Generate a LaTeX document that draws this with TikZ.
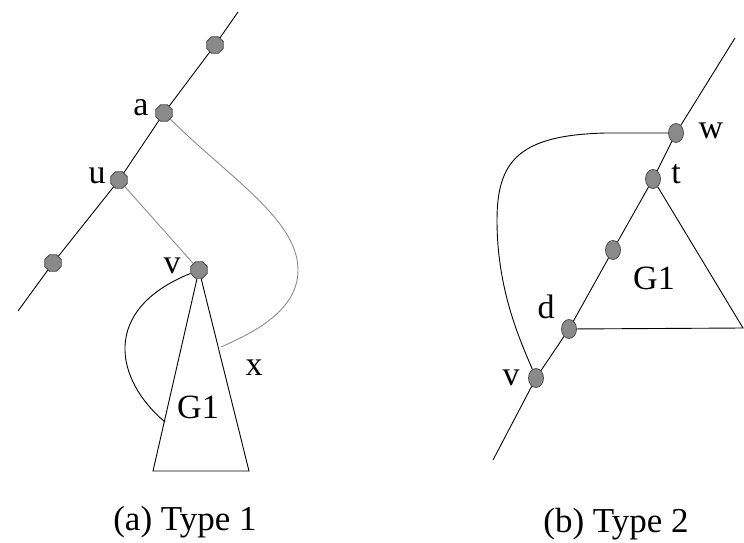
\documentclass[tikz,border=0pt]{standalone}
\usepackage{fontspec}
\setmainfont{Liberation Serif}
\usetikzlibrary{shapes.geometric}
\definecolor{dotfill}{HTML}{8A8A8A}
\definecolor{dotline}{HTML}{505050}
\definecolor{softgray}{HTML}{8C8C8C}
\begin{document}
\begin{tikzpicture}[x=1pt,y=-1pt,
  octdot/.style={regular polygon,regular polygon sides=8,minimum size=18pt,inner sep=0pt,fill=dotfill,draw=dotline,line width=0.8pt},
  ovaldot/.style={ellipse,minimum width=15pt,minimum height=19pt,inner sep=0pt,fill=dotfill,draw=dotline,line width=0.8pt},
  lbl/.style={font=\fontsize{34}{40}\selectfont,inner sep=0pt},
  captext/.style={font=\fontsize{35}{42}\selectfont,inner sep=0pt},
  ln/.style={line width=0.9pt,black},
  gln/.style={line width=0.9pt,softgray}]
\useasboundingbox (0,0) rectangle (744,543);
% ---------- (a) Type 1 ----------
\coordinate (L1) at (238,12);
\coordinate (L2) at (18,311);
\coordinate (TL) at (153,471);
\coordinate (TR) at (249,471);
\coordinate (X1) at (221,347);
\coordinate (Y1) at (165,422);
\node[octdot] (top) at (215,45) {};
\node[octdot] (a) at (164,113) {};
\node[octdot] (u) at (119,180) {};
\node[octdot] (lft) at (53,263) {};
\node[octdot] (v) at (199,270) {};
\draw[ln] (L2) -- (lft) -- (u) -- (a) -- (top) -- (L1);
\draw[gln] (u) -- (v);
\draw[gln] (a) .. controls (230,178) and (298,220) .. (298,270) .. controls (298,310) and (255,332) .. (X1);
\draw[ln] (v) .. controls (100,310) and (115,380) .. (Y1);
\draw[ln] (v) -- (TL) -- (TR) -- (v);
\node[lbl] (la) at (141,108) {a};
\node[lbl] (lu) at (97,176) {u};
\node[lbl] (lv) at (172,266) {v};
\node[lbl] (lx) at (254,368) {x};
\node[lbl] (lg) at (198,407) {G1};
\node[captext] (capa) at (185,522) {(a) Type 1};
% ---------- (b) Type 2 ----------
\coordinate (R1) at (735,38);
\coordinate (R2) at (493,460);
\coordinate (RR) at (743,328);
\coordinate (H1) at (606,133);
\node[ovaldot] (w) at (676,133) {};
\node[ovaldot] (t) at (653,179) {};
\node[ovaldot] (m) at (613,250) {};
\node[ovaldot] (d) at (569,329) {};
\node[ovaldot] (v2) at (536,378) {};
\draw[ln] (R2) -- (v2) -- (d) -- (m) -- (t) -- (w) -- (R1);
\draw[ln] (t) -- (RR) -- (d);
\draw[ln] (w) -- (H1) .. controls (520,135) and (497,160) .. (497,220) .. controls (497,290) and (520,340) .. (v2);
\node[lbl] (lw) at (711,131) {w};
\node[lbl] (lt) at (676,174) {t};
\node[lbl] (ld) at (546,307) {d};
\node[lbl] (lv2) at (511,378) {v};
\node[lbl] (lg2) at (654,278) {G1};
\node[captext] (capb) at (616,524) {(b) Type 2};
\end{tikzpicture}
\end{document}
